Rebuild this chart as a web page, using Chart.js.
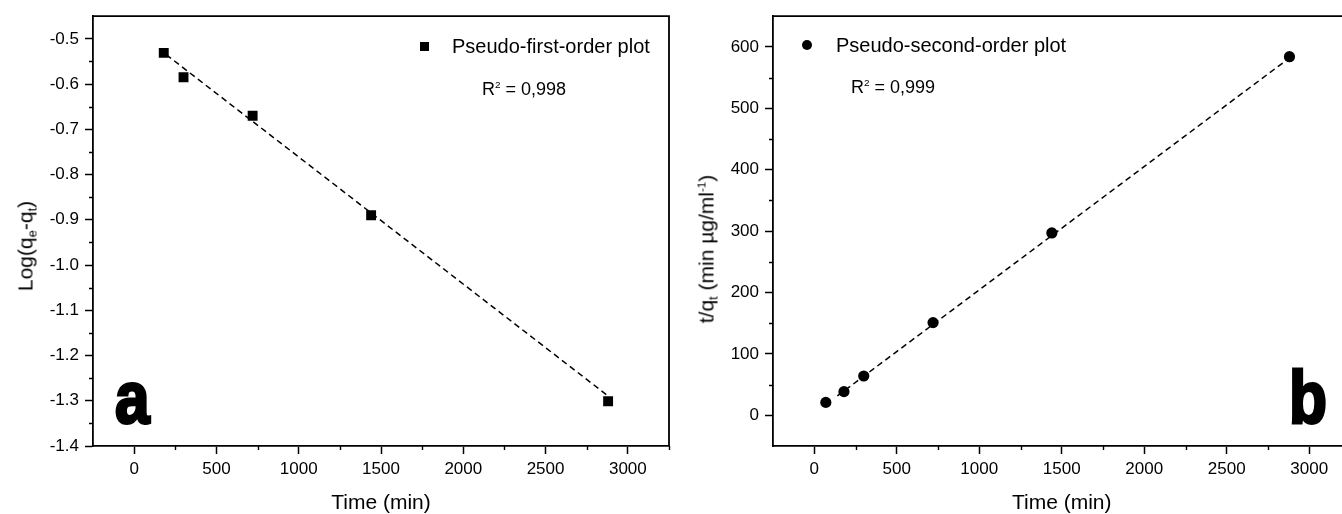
<!DOCTYPE html>
<html>
<head>
<meta charset="utf-8">
<script src="https://cdn.jsdelivr.net/npm/chart.js@4.4.1/dist/chart.umd.min.js"></script>
<style>
    body { margin: 0; width: 1342px; height: 514px; overflow: hidden; background: #fff; position: relative;
           font-family: "Liberation Sans", Arial, sans-serif; color: #000; }
    #panelA { position: absolute; left: 0; top: 0; }
    #panelB { position: absolute; left: 680px; top: 0; }
    .ytitle { position: absolute; font-size: 21px; line-height: 21px; white-space: nowrap;
              transform: translate(-50%, -50%) rotate(-90deg); }
    .ytitle sub { font-size: 0.62em; vertical-align: -0.3em; line-height: 0; }
    .ytitle sup { font-size: 0.55em; vertical-align: 0.7em; line-height: 0; }
    .leg { position: absolute; font-size: 20px; line-height: 20px; white-space: nowrap; }
    .r2 { position: absolute; font-size: 18px; line-height: 18px; white-space: nowrap; }
    .r2 sup { font-size: 0.55em; vertical-align: 0.75em; line-height: 0; }
    .mark { position: absolute; background: #000; }
    .mark.sq { width: 9px; height: 9px; }
    .mark.dot { width: 10px; height: 10px; border-radius: 50%; }
    .big { position: absolute; font-size: 74px; line-height: 74px; font-weight: bold;
           transform: scaleX(0.84); transform-origin: left top; -webkit-text-stroke: 3px #000; }
</style>
</head>
<body>
<canvas id="panelA" width="680" height="514"></canvas>
<canvas id="panelB" width="690" height="514"></canvas>

<div class="ytitle" style="left:25px; top:246px">Log(q<sub>e</sub>-q<sub>t</sub>)</div>
<div class="ytitle" style="left:706px; top:249px">t/q<sub>t</sub> (min µg/ml<sup>-1</sup>)</div>

<div class="mark sq" style="left:420px; top:42px"></div>
<div class="leg" id="legA" style="left:452px; top:36px"></div>
<div class="r2" id="r2A" style="left:482px; top:80px"></div>

<div class="mark dot" style="left:802px; top:40px"></div>
<div class="leg" id="legB" style="left:836px; top:35px"></div>
<div class="r2" id="r2B" style="left:851px; top:78px"></div>

<div class="big" style="left:115px; top:361px">a</div>
<div class="big" style="left:1289px; top:361px">b</div>

<script>
// panel a - pseudo-first-order
const timeA = [180, 300, 720, 1440, 2880];
const logQ = [-0.531, -0.585, -0.670, -0.890, -1.301];
const fitTimeA = [195, 2875];
const fitLogQ = [-0.535, -1.288];
const labelA = 'Pseudo-first-order plot';
const r2A = '0,998';

// panel b - pseudo-second-order
const timeB = [70, 180, 300, 720, 1440, 2880];
const tOverQ = [21, 38.5, 64, 151, 297, 584];
const fitTimeB = [140, 2860];
const fitTOverQ = [31.5, 578];
const labelB = 'Pseudo-second-order plot';
const r2B = '0,999';

// axes
const xTicks = [0, 500, 1000, 1500, 2000, 2500, 3000];
const xMinor = [250, 750, 1250, 1750, 2250, 2750, 3250];
const yTicksA = [-1.4, -1.3, -1.2, -1.1, -1.0, -0.9, -0.8, -0.7, -0.6, -0.5];
const yMinorA = [-1.35, -1.25, -1.15, -1.05, -0.95, -0.85, -0.75, -0.65, -0.55];
const yTicksB = [0, 100, 200, 300, 400, 500, 600];
const yMinorB = [50, 150, 250, 350, 450, 550];

document.getElementById('legA').textContent = labelA;
document.getElementById('legB').textContent = labelB;
document.getElementById('r2A').innerHTML = 'R<sup>2</sup> = ' + r2A;
document.getElementById('r2B').innerHTML = 'R<sup>2</sup> = ' + r2B;

Chart.defaults.font.family = '"Liberation Sans", Arial, sans-serif';
Chart.defaults.color = '#000';

function toPoints(xs, ys) {
    return xs.map((x, i) => ({ x: x, y: ys[i] }));
}

// top and right sides of the frame + short minor ticks
const framePlugin = {
    id: 'frame',
    afterDraw(chart, args, opts) {
        const ctx = chart.ctx;
        const a = chart.chartArea;
        const xs = chart.scales.x, ys = chart.scales.y;
        ctx.save();
        ctx.strokeStyle = '#000';
        ctx.lineWidth = 1.8;
        ctx.beginPath();
        ctx.moveTo(a.left, a.top);
        ctx.lineTo(a.right, a.top);
        ctx.lineTo(a.right, a.bottom);
        ctx.stroke();

        ctx.lineWidth = 1.4;
        ctx.beginPath();
        opts.xMinor.forEach(v => {
            const px = Math.round(xs.getPixelForValue(v)) + 0.5;
            ctx.moveTo(px, a.bottom);
            ctx.lineTo(px, a.bottom + 4);
        });
        opts.yMinor.forEach(v => {
            const py = Math.round(ys.getPixelForValue(v)) + 0.5;
            ctx.moveTo(a.left, py);
            ctx.lineTo(a.left - 4, py);
        });
        ctx.stroke();
        ctx.restore();
    }
};

function makeChart(id, cfg) {
    return new Chart(document.getElementById(id), {
        type: 'scatter',
        data: {
            datasets: [{
                data: cfg.points,
                pointStyle: cfg.pointStyle,
                pointRadius: cfg.pointRadius,
                backgroundColor: '#000',
                borderColor: '#000',
                borderWidth: 0,
                order: 0
            }, {
                data: cfg.fit,
                showLine: true,
                borderColor: '#000',
                borderWidth: 1.5,
                borderDash: [6, 4],
                pointRadius: 0,
                order: 1
            }]
        },
        options: {
            responsive: false,
            animation: false,
            devicePixelRatio: 1,
            layout: { padding: { top: 16, right: cfg.padRight, left: 0, bottom: 0 } },
            plugins: {
                legend: { display: false },
                tooltip: { enabled: false },
                frame: { xMinor: xMinor, yMinor: cfg.yMinor }
            },
            scales: {
                x: {
                    type: 'linear',
                    min: -250,
                    max: 3250,
                    afterBuildTicks: s => { s.ticks = xTicks.map(v => ({ value: v })); },
                    afterFit: s => { s.height = 68; },
                    ticks: { font: { size: 17 }, padding: 5, maxRotation: 0, callback: v => String(v) },
                    grid: { drawOnChartArea: false, tickLength: 8, tickColor: '#000', tickWidth: 1.5 },
                    border: { color: '#000', width: 1.8 },
                    title: { display: true, text: 'Time (min)', font: { size: 21, lineHeight: 1 }, padding: { top: 0, bottom: 0 } }
                },
                y: {
                    type: 'linear',
                    min: cfg.yMin,
                    max: cfg.yMax,
                    afterBuildTicks: s => { s.ticks = cfg.yTicks.map(v => ({ value: v })); },
                    afterFit: s => { s.width = 93; },
                    ticks: { font: { size: 17 }, padding: 6, callback: cfg.yFormat },
                    grid: { drawOnChartArea: false, tickLength: 8, tickColor: '#000', tickWidth: 1.5 },
                    border: { color: '#000', width: 1.8 }
                }
            }
        },
        plugins: [framePlugin]
    });
}

makeChart('panelA', {
    points: toPoints(timeA, logQ),
    fit: toPoints(fitTimeA, fitLogQ),
    pointStyle: 'rect',
    pointRadius: 7,
    padRight: 11,
    yMin: -1.4,
    yMax: -0.45,
    yTicks: yTicksA,
    yMinor: yMinorA,
    yFormat: v => v.toFixed(1)
});

makeChart('panelB', {
    points: toPoints(timeB, tOverQ),
    fit: toPoints(fitTimeB, fitTOverQ),
    pointStyle: 'circle',
    pointRadius: 5.6,
    padRight: 19.5,
    yMin: -50,
    yMax: 650,
    yTicks: yTicksB,
    yMinor: yMinorB,
    yFormat: v => String(v)
});
</script>
</body>
</html>
